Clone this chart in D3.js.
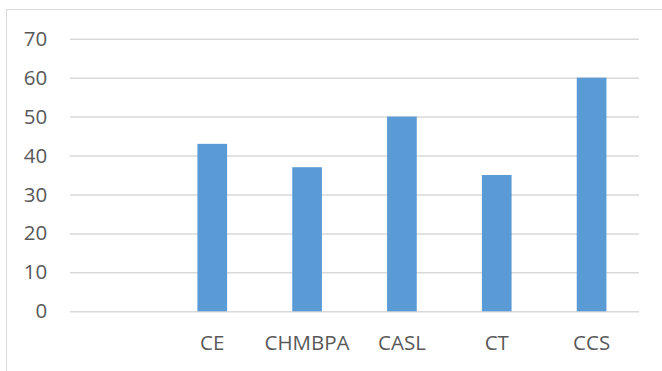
<!DOCTYPE html>
<html>
<head>
<meta charset="utf-8">
<script src="https://cdn.jsdelivr.net/npm/d3@7/dist/d3.min.js"></script>
<style>
  html, body { margin: 0; padding: 0; background: #fff; }
  svg { display: block; }
</style>
</head>
<body>
<svg id="chart" width="662" height="371"></svg>
<script>
// Category names (first slot is blank) and their values
const categories = ["", "CE", "CHMBPA", "CASL", "CT", "CCS"];
const values = [0, 43, 37, 50, 35, 60];
const yTicks = [0, 10, 20, 30, 40, 50, 60, 70];

const width = 662, height = 371;
const margin = { top: 38.7, right: 23, bottom: 59.7, left: 70 };
const svg = d3.select("#chart");
const fontFamily = "'Open Sans', 'DejaVu Sans', sans-serif";
const fontSize = 20.5;

// Outer chart frame (extends past the window on the right and bottom)
svg.append("rect")
  .attr("x", 6.5).attr("y", 9.5)
  .attr("width", 700).attr("height", 400)
  .attr("fill", "none")
  .attr("stroke", "#d9d9d9")
  .attr("stroke-width", 1);

const x = d3.scaleBand()
  .domain(categories.map((c, i) => i))
  .range([margin.left, width - margin.right])
  .paddingInner(0.687)
  .paddingOuter(0.3435);

const y = d3.scaleLinear()
  .domain([0, 70])
  .range([height - margin.bottom, margin.top]);

// Horizontal gridlines with value labels
const yAxis = d3.axisLeft(y)
  .tickValues(yTicks)
  .tickSize(-(width - margin.right - margin.left))
  .tickPadding(22.7);

const gy = svg.append("g")
  .attr("transform", `translate(${margin.left},0)`)
  .call(yAxis);
gy.select(".domain").remove();
gy.selectAll(".tick line")
  .attr("stroke", "#d9d9d9")
  .attr("stroke-width", 1.5);
gy.selectAll(".tick text")
  .attr("fill", "#595959")
  .attr("font-family", fontFamily)
  .attr("font-size", fontSize);

// Bars
svg.append("g")
  .selectAll("rect")
  .data(values)
  .join("rect")
  .attr("x", (d, i) => x(i))
  .attr("y", d => y(d))
  .attr("width", x.bandwidth())
  .attr("height", d => y(0) - y(d))
  .attr("fill", "#5b9bd5");

// Category labels
const xAxis = d3.axisBottom(x)
  .tickFormat(i => categories[i])
  .tickSize(0)
  .tickPadding(24);

const gx = svg.append("g")
  .attr("transform", `translate(0,${y(0)})`)
  .call(xAxis);
gx.select(".domain").remove();
gx.selectAll(".tick text")
  .attr("fill", "#595959")
  .attr("font-family", fontFamily)
  .attr("font-size", fontSize);
</script>
</body>
</html>
